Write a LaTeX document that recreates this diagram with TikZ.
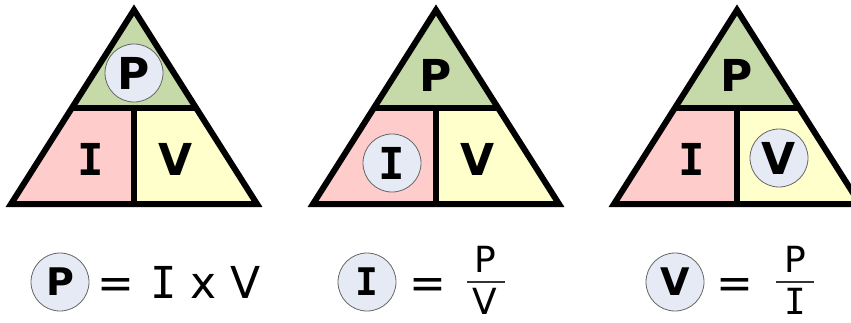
\documentclass[tikz,border=0pt]{standalone}
\usepackage{fontspec}
\setmainfont{DejaVu Sans}
\newfontfamily\serifI{DejaVu Sans Mono}
\usepackage{tikz}
\usetikzlibrary{positioning}

\definecolor{powergreen}{RGB}{198,217,168}
\definecolor{currentpink}{RGB}{255,204,204}
\definecolor{voltyellow}{RGB}{255,255,204}
\definecolor{bubblegray}{RGB}{230,234,245}

\begin{document}
\begin{tikzpicture}[x=1pt, y=-1pt,
		edge/.style={draw=black, line width=6pt, line join=miter},
		letter/.style={font=\fontsize{44}{44}\selectfont\bfseries, inner sep=0pt},
		bubble/.style={circle, draw=black!60, fill=bubblegray, line width=0.8pt, minimum size=58pt, inner sep=0pt},
		plain/.style={font=\fontsize{44}{44}\selectfont, inner sep=0pt},
		small/.style={font=\fontsize{36}{36}\selectfont, inner sep=0pt}]
		
		\clip (0,0) rectangle (851,322);
		\fill[white] (0,0) rectangle (851,322);
		
		% triangle P
		\fill[powergreen] (134,10) -- (72,108) -- (196,108) -- cycle;
		\fill[currentpink] (72,108) -- (134,108) -- (134,204) -- (11,204) -- cycle;
		\fill[voltyellow] (134,108) -- (196,108) -- (257,204) -- (134,204) -- cycle;
		\draw[edge] (134,10) -- (11,204) -- (257,204) -- cycle;
		\draw[edge] (72,108) -- (196,108);
		\draw[edge] (134,108) -- (134,204);
		\node[bubble, letter] (p1) at (134,73) {P};
		\node[letter] (i1) at (91,159) {\serifI I};
		\node[letter] (v1) at (176,159) {V};
		
		% triangle I
		\fill[powergreen] (436,10) -- (374,108) -- (498,108) -- cycle;
		\fill[currentpink] (374,108) -- (436,108) -- (436,204) -- (313,204) -- cycle;
		\fill[voltyellow] (436,108) -- (498,108) -- (559,204) -- (436,204) -- cycle;
		\draw[edge] (436,10) -- (313,204) -- (559,204) -- cycle;
		\draw[edge] (374,108) -- (498,108);
		\draw[edge] (436,108) -- (436,204);
		\node[letter] (p2) at (436,75) {P};
		\node[bubble, letter] (i2) at (392,163) {\serifI I};
		\node[letter] (v2) at (478,159) {V};
		
		% triangle V
		\fill[powergreen] (737,10) -- (675,108) -- (799,108) -- cycle;
		\fill[currentpink] (675,108) -- (737,108) -- (737,204) -- (614,204) -- cycle;
		\fill[voltyellow] (737,108) -- (799,108) -- (860,204) -- (737,204) -- cycle;
		\draw[edge] (737,10) -- (614,204) -- (860,204) -- cycle;
		\draw[edge] (675,108) -- (799,108);
		\draw[edge] (737,108) -- (737,204);
		\node[letter] (p3) at (737,75) {P};
		\node[letter] (i3) at (692,159) {\serifI I};
		\node[bubble, letter] (v3) at (779,158) {V};
		
		% formulas
		\node[bubble, font=\fontsize{38}{38}\selectfont\bfseries] (fp) at (60,282) {P};
		\node[plain] (eq1) at (116,289) {=};
		\node[plain, anchor=west] (ixv) at (150,282) {{\serifI I} x V};
		
		\node[bubble, font=\fontsize{38}{38}\selectfont\bfseries] (fi) at (367,282) {\serifI I};
		\node[plain] (eq2) at (428,289) {=};
		\node[small] (num2) at (485,259) {P};
		\node[small] (den2) at (485,301) {V};
		\draw[line width=2pt, black!80] (467,282) -- (505,282);
		
		\node[bubble, font=\fontsize{38}{38}\selectfont\bfseries] (fv) at (675,282) {V};
		\node[plain] (eq3) at (735,289) {=};
		\node[small] (num3) at (795,259) {P};
		\node[small] (den3) at (795,301) {\serifI I};
		\draw[line width=2pt, black!80] (776,282) -- (814,282);
	\end{tikzpicture}
\end{document}
